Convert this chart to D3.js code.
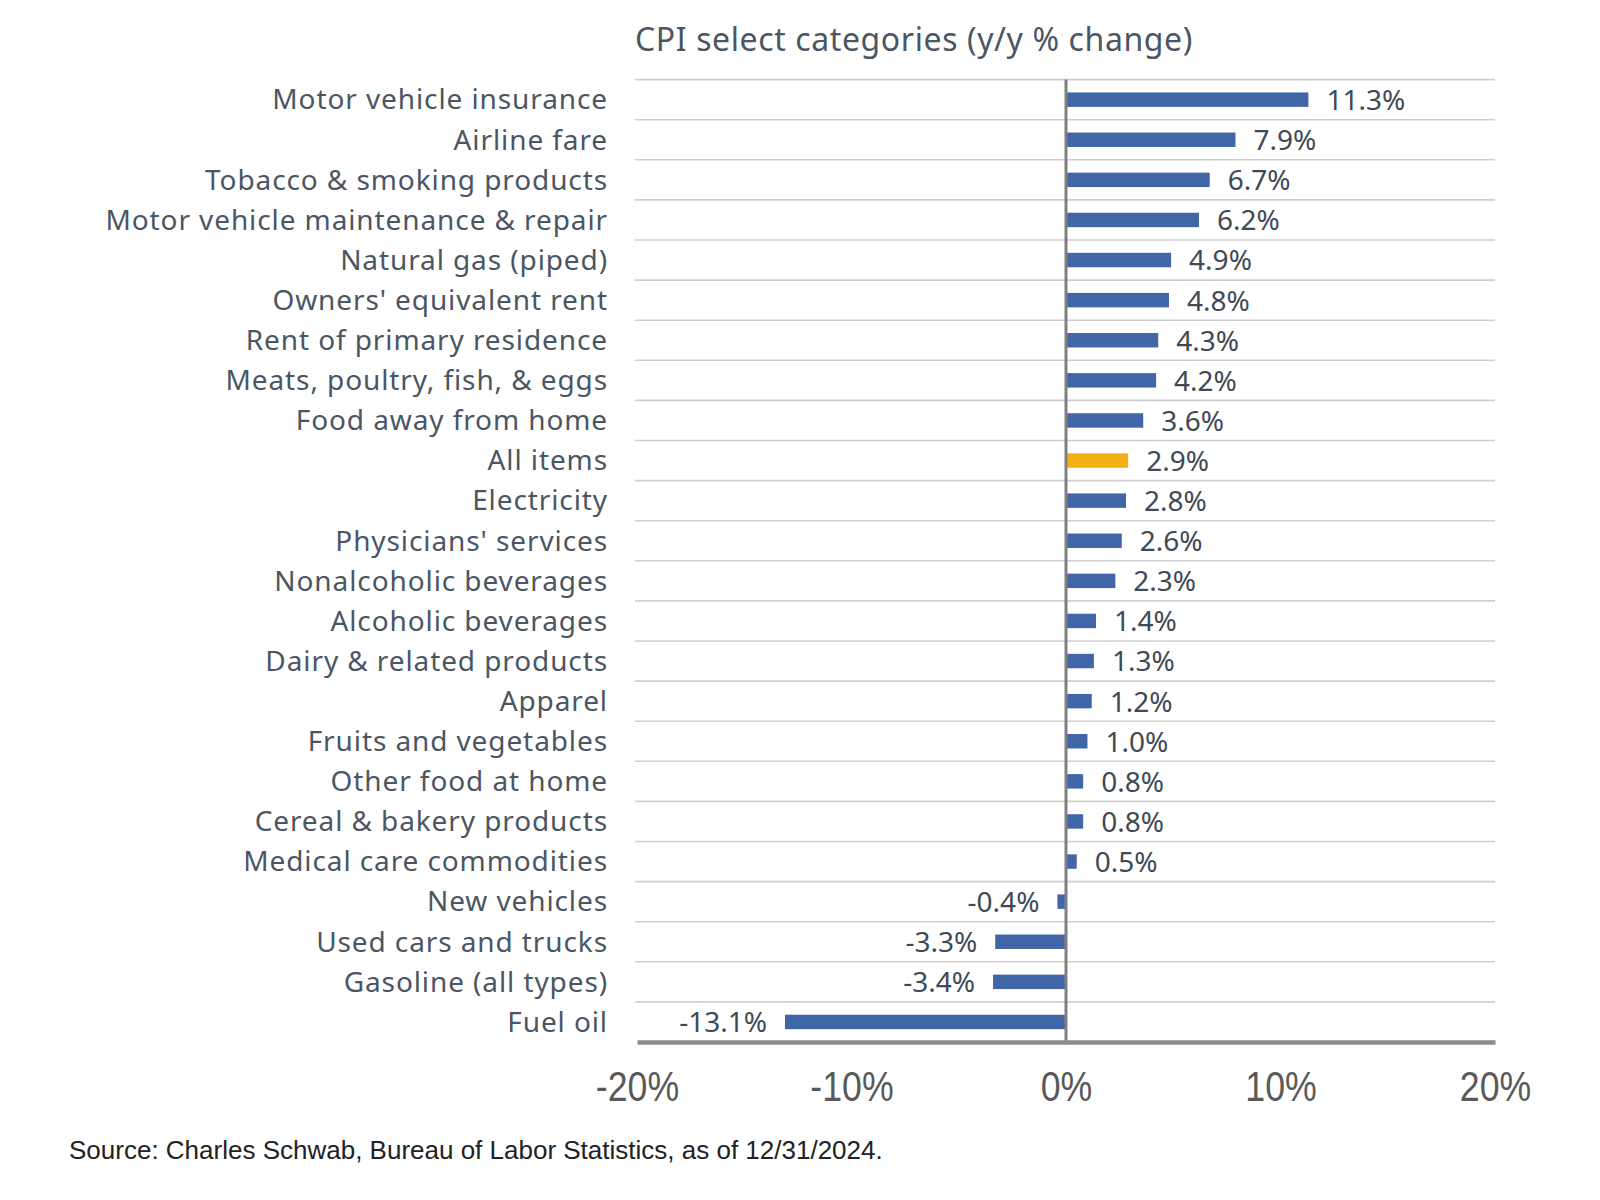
<!DOCTYPE html>
<html><head><meta charset="utf-8">
<script src="https://cdn.jsdelivr.net/npm/d3@7"></script>
<style>body{margin:0;background:#fff;} svg{display:block;}</style>
</head><body>
<script>
const categories = ["Motor vehicle insurance","Airline fare","Tobacco & smoking products","Motor vehicle maintenance & repair","Natural gas (piped)","Owners' equivalent rent","Rent of primary residence","Meats, poultry, fish, & eggs","Food away from home","All items","Electricity","Physicians' services","Nonalcoholic beverages","Alcoholic beverages","Dairy & related products","Apparel","Fruits and vegetables","Other food at home","Cereal & bakery products","Medical care commodities","New vehicles","Used cars and trucks","Gasoline (all types)","Fuel oil"];
const values = [11.3,7.9,6.7,6.2,4.9,4.8,4.3,4.2,3.6,2.9,2.8,2.6,2.3,1.4,1.3,1.2,1.0,0.8,0.8,0.5,-0.4,-3.3,-3.4,-13.1];
const highlight = ["All items"];
const xTicks = [-20,-10,0,10,20];
const title = "CPI select categories (y/y % change)";
const source = "Source: Charles Schwab, Bureau of Labor Statistics, as of 12/31/2024.";

const W=1600,H=1200;
const pL=637,pR=1495,pT=79.6,pB=1042;
const svg=d3.select("body").append("svg").attr("width",W).attr("height",H);
const x=d3.scaleLinear().domain([-20,20]).range([pL,pR]);
const y=d3.scaleBand().domain(categories).range([pT,pB]).paddingInner(0.64).paddingOuter(0.32);
const data=categories.map((c,i)=>({c,v:values[i]}));

const step=y.step();
const bounds=d3.range(categories.length).map(i=>pT+i*step);
svg.append("g").selectAll("line").data(bounds).join("line")
  .attr("x1",pL-2).attr("x2",pR).attr("y1",d=>d).attr("y2",d=>d)
  .attr("stroke","#cfcfcf").attr("stroke-width",1.6);

svg.append("g").selectAll("rect").data(data).join("rect")
  .attr("x",d=>x(Math.min(0,d.v))).attr("width",d=>Math.abs(x(d.v)-x(0)))
  .attr("y",d=>y(d.c)).attr("height",y.bandwidth())
  .attr("fill",d=>highlight.includes(d.c)?"#F4AF15":"#4166A8");

svg.append("line").attr("x1",x(0)).attr("x2",x(0)).attr("y1",pT).attr("y2",pB)
  .attr("stroke","#808080").attr("stroke-width",3);

const ax=svg.append("g").attr("transform",`translate(0,${pB})`)
  .call(d3.axisBottom(x).tickValues(xTicks).tickSize(0).tickPadding(29).tickFormat(d=>d+"%"));
ax.select(".domain").attr("stroke","#8c8c8c").attr("stroke-width",4.5);
ax.selectAll("text").attr("font-family","'Liberation Sans',Arial,sans-serif")
  .attr("font-size",42).attr("fill","#595959").attr("transform","scale(0.85,1)");

svg.append("g").selectAll("text").data(data).join("text")
  .attr("x",608).attr("y",d=>y(d.c)+y.bandwidth()/2).attr("dy","0.35em")
  .attr("text-anchor","end").attr("font-family","'Noto Sans',sans-serif").attr("font-size",28)
  .attr("letter-spacing",0.9).attr("fill","#4b5663").text(d=>d.c);

svg.append("g").selectAll("text").data(data).join("text")
  .attr("x",d=>d.v>=0?x(d.v)+18:x(d.v)-18).attr("y",d=>y(d.c)+y.bandwidth()/2).attr("dy","0.37em")
  .attr("text-anchor",d=>d.v>=0?"start":"end").attr("font-family","'Noto Sans',sans-serif").attr("font-size",28)
  .attr("fill","#404a55").text(d=>d.v.toFixed(1)+"%");

svg.append("text").attr("x",635).attr("y",51).attr("font-family","'Noto Sans',sans-serif")
  .attr("font-size",32).attr("letter-spacing",0.6).attr("fill","#4b5663").text(title);

svg.append("text").attr("x",69).attr("y",1159).attr("font-family","'Liberation Sans',Arial,sans-serif")
  .attr("font-size",26).attr("fill","#222").text(source);
</script>
</body></html>
